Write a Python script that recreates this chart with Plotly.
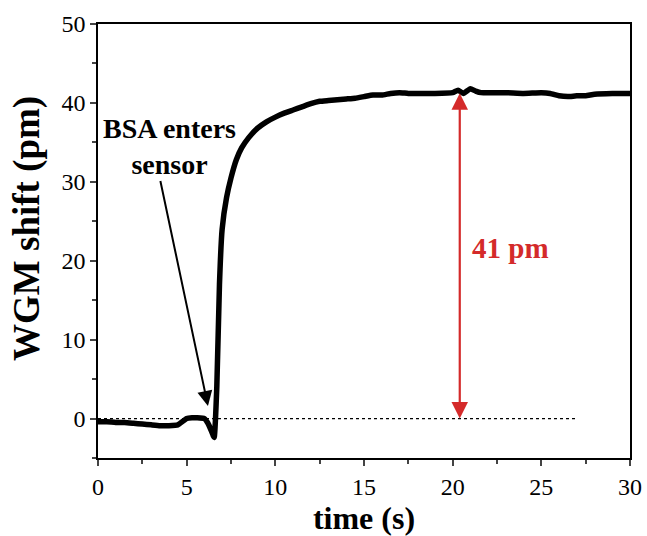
import plotly.graph_objects as go

time_s = [0, 0.5, 1, 1.5, 2, 2.5, 3, 3.5, 4, 4.5, 5, 5.3, 5.6, 6, 6.2, 6.4, 6.55,
          6.7, 6.85, 7, 7.25, 7.5, 7.8, 8.1, 8.5, 9, 9.5, 10, 10.5, 11, 11.5, 12,
          12.5, 13, 14, 14.5, 15, 15.5, 16, 16.5, 17, 17.5, 18, 19, 20, 20.3, 20.6,
          21, 21.3, 21.6, 22, 23, 24, 25, 25.5, 26, 26.5, 27, 27.5, 28, 29, 30]
shift_pm = [-0.4, -0.4, -0.5, -0.5, -0.6, -0.7, -0.8, -0.9, -0.9, -0.8, 0.0, 0.1, 0.1, 0.0, -0.6, -1.6, -2.4,
            4.0, 17.0, 24.0, 28.0, 30.5, 32.8, 34.3, 35.6, 36.8, 37.6, 38.2, 38.7, 39.1, 39.5, 39.9,
            40.2, 40.3, 40.5, 40.6, 40.8, 41.0, 41.0, 41.2, 41.3, 41.2, 41.2, 41.2, 41.3, 41.6, 41.2,
            41.8, 41.5, 41.3, 41.3, 41.3, 41.2, 41.3, 41.2, 40.9, 40.8, 40.9, 40.9, 41.1, 41.2, 41.2]

x_ticks = [0, 5, 10, 15, 20, 25, 30]
y_ticks = [0, 10, 20, 30, 40, 50]
baseline_x = [0, 27]
baseline_y = [0, 0]

fig = go.Figure()
fig.add_trace(go.Scatter(x=baseline_x, y=baseline_y, mode="lines",
                         line=dict(color="black", width=1.2, dash="dot"), hoverinfo="skip"))
fig.add_trace(go.Scatter(x=time_s, y=shift_pm, mode="lines",
                         line=dict(color="black", width=5.5, shape="spline", smoothing=0.4)))

font_serif = "Liberation Serif, Times New Roman, serif"

fig.update_layout(
    width=647, height=536,
    margin=dict(l=98, r=17, t=24, b=78, autoexpand=False),
    paper_bgcolor="white", plot_bgcolor="white",
    showlegend=False,
    font=dict(family=font_serif, color="black", size=24),
    xaxis=dict(range=[0, 30], tickvals=x_ticks, ticks="outside", ticklen=6, tickwidth=1.5,
               showline=True, linecolor="black", linewidth=1.5, mirror=True, showgrid=False,
               zeroline=False, minor=dict(ticks="outside", ticklen=4, dtick=2.5, tickwidth=1.5),
               automargin=False, ticklabeloverflow="allow",
               title=dict(text="<b>time (s)</b>", font=dict(size=32), standoff=12),
               tickfont=dict(size=24)),
    yaxis=dict(range=[-5, 50], tickvals=y_ticks, ticks="outside", ticklen=6, tickwidth=1.5,
               showline=True, linecolor="black", linewidth=1.5, mirror=True, showgrid=False,
               zeroline=False, minor=dict(ticks="outside", ticklen=4, dtick=5, tickwidth=1.5),
               automargin=False,
               tickfont=dict(size=24)),
)

# y-axis title placed as in the reference (slightly above plot centre)
fig.add_annotation(x=-0.1335, y=0.53, xref="paper", yref="paper", text="<b>WGM shift (pm)</b>",
                   textangle=-90, showarrow=False, xanchor="center", yanchor="middle",
                   font=dict(size=37, color="black"))

# red double arrow
fig.add_annotation(x=20.4, y=0, ax=20.4, ay=41.4, xref="x", yref="y", axref="x", ayref="y",
                   showarrow=True, arrowhead=2, startarrowhead=2, arrowside="end+start",
                   arrowcolor="#d42a2a", arrowwidth=2.2, arrowsize=1.5, startarrowsize=1.5, text="")
fig.add_annotation(x=20.95, y=21.6, xref="x", yref="y", text="<b>41 pm</b>", showarrow=False,
                   xanchor="left", font=dict(size=29, color="#d42a2a"))

# BSA arrow
fig.add_annotation(x=6.2, y=1.6, ax=3.5, ay=30.3, xref="x", yref="y", axref="x", ayref="y",
                   showarrow=True, arrowhead=2, arrowcolor="black", arrowwidth=2, arrowsize=1.5,
                   text="")
fig.add_annotation(x=4.05, y=34.5, xref="x", yref="y",
                   text="<b>BSA enters<br>sensor</b>", showarrow=False,
                   font=dict(size=28, color="black"), align="center")

# remove the default 8px page margin so the 647x536 figure fills the window exactly
fig.write_html("out.html", config={"displayModeBar": False},
               post_script="document.body.style.margin='0px';document.body.style.overflow='hidden';")
